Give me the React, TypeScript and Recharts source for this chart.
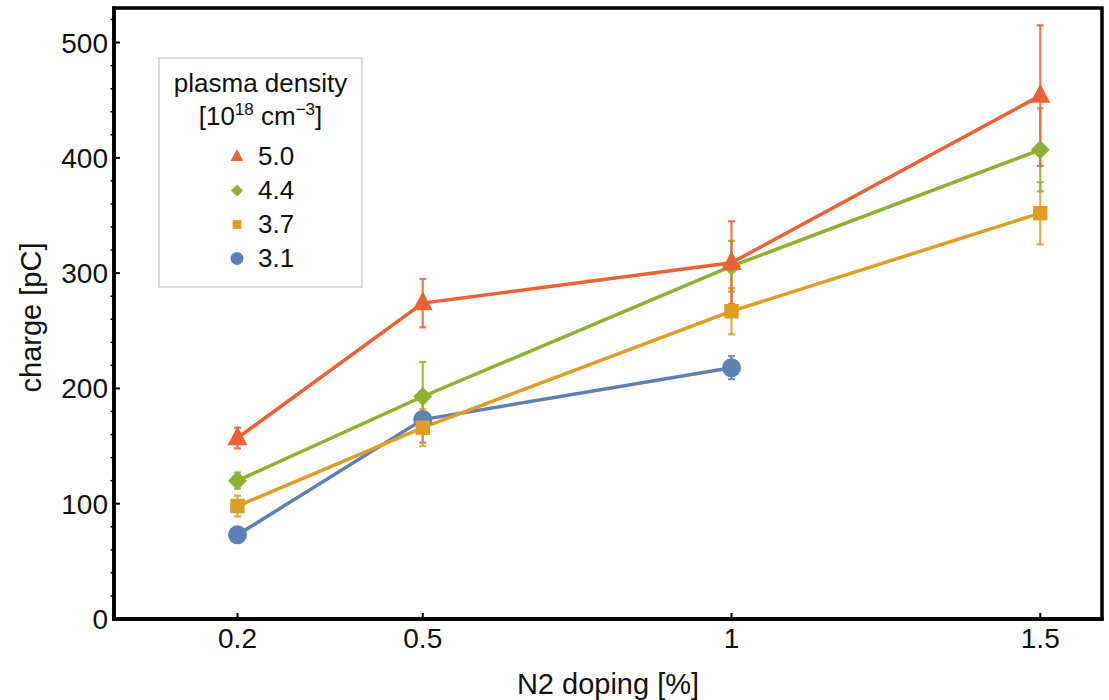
import React from 'react';
import { LineChart, Line, XAxis, YAxis, ErrorBar, Legend, ReferenceArea } from 'recharts';

const FONT = '"Liberation Sans", Arial, Helvetica, sans-serif';

const xValues = [0.2, 0.5, 1, 1.5];
const xTicks = [0.2, 0.5, 1, 1.5];
const xTickLabels = ['0.2', '0.5', '1', '1.5'];
const yMajorTicks = [0, 100, 200, 300, 400, 500];
const yMinorTicks = [20, 40, 60, 80, 120, 140, 160, 180, 220, 240, 260, 280, 320, 340, 360, 380, 420, 440, 460, 480, 520];

const charge50 = [157, 274, 309, 454];
const err50 = [9, 21, 36, 61];
const charge44 = [120, 193, 306, 407];
const err44 = [7, 30, 22, 36];
const charge37 = [98, 166, 267, 352];
const err37 = [9, 16, 20, 27];
const charge31 = [73, 173, 218];
const err31 = [4, 20, 10];

const seriesNames = ['5.0', '4.4', '3.7', '3.1'];
const seriesColors = ['#EB6235', '#8FB131', '#E19C24', '#5E81B5'];
const seriesShapes = ['triangle', 'diamond', 'square', 'circle'];
const seriesValues = [charge50, charge44, charge37, charge31];
const seriesErrors = [err50, err44, err37, err31];

const series = seriesNames.map((name, i) => ({
  name,
  color: seriesColors[i],
  shape: seriesShapes[i],
  data: seriesValues[i].map((v, j) => ({ x: xValues[j], y: v, err: seriesErrors[i][j] })),
}));

const drawOrder = [3, 2, 1, 0];

const X_DOMAIN = [0, 1.6];
const Y_DOMAIN = [0, 530];
const X_TICK_MARGIN = 9;
const Y_TICK_MARGIN = 6;

function Marker({ shape, cx, cy, s, color }: { shape: string; cx: number; cy: number; s: number; color: string }) {
  if (shape === 'triangle') {
    const h = s * 1.0;
    const w = s * 1.05;
    return (
      <polygon
        points={`${cx},${cy - h * 0.62} ${cx - w / 2},${cy + h * 0.38} ${cx + w / 2},${cy + h * 0.38}`}
        fill={color}
      />
    );
  }
  if (shape === 'diamond') {
    const r = s / 2;
    return <polygon points={`${cx},${cy - r} ${cx + r},${cy} ${cx},${cy + r} ${cx - r},${cy}`} fill={color} />;
  }
  if (shape === 'square') {
    const r = s * 0.38;
    return <rect x={cx - r} y={cy - r} width={2 * r} height={2 * r} fill={color} />;
  }
  return <circle cx={cx} cy={cy} r={s * 0.5} fill={color} />;
}

const makeDot = (shape: string, color: string) => (props: any) => {
  const { cx, cy, index } = props;
  if (cx == null || cy == null) return <g key={`d-${shape}-${index}`} />;
  return (
    <g key={`d-${shape}-${index}`}>
      <Marker shape={shape} cx={cx} cy={cy} s={19} color={color} />
    </g>
  );
};

const XTick = (props: any) => {
  const { x, y, payload } = props;
  const axisY = y - X_TICK_MARGIN;
  const idx = xTicks.indexOf(payload.value);
  return (
    <g>
      <line x1={x} x2={x} y1={axisY} y2={axisY - 6} stroke="#000" strokeWidth={2} />
      <text x={x} y={y} dy="0.71em" textAnchor="middle" fontSize={28} fontFamily={FONT} fill="#111">
        {idx >= 0 ? xTickLabels[idx] : ''}
      </text>
    </g>
  );
};

const YTick = (props: any) => {
  const { x, y, payload } = props;
  const axisX = x + Y_TICK_MARGIN;
  const v = payload.value;
  if (!yMajorTicks.includes(v)) {
    return <line x1={axisX} x2={axisX - 3.5} y1={y} y2={y} stroke="#000" strokeWidth={1.5} />;
  }
  return (
    <g>
      <line x1={axisX} x2={axisX + 6} y1={y} y2={y} stroke="#000" strokeWidth={2} />
      <text x={x} y={y} dy="0.355em" textAnchor="end" fontSize={28} fontFamily={FONT} fill="#111">
        {v}
      </text>
    </g>
  );
};

const LegendBox = () => {
  const supStyle: React.CSSProperties = { fontSize: 17, position: 'relative', top: -10, verticalAlign: 'baseline', lineHeight: 0 };
  return (
    <div
      style={{
        width: 205,
        height: 231,
        boxSizing: 'border-box',
        border: '2px solid #dddddd',
        background: '#fff',
        fontFamily: FONT,
        fontSize: 26,
        color: '#111',
        textAlign: 'center',
        paddingTop: 8,
        lineHeight: '33px',
      }}
    >
      <div>plasma density</div>
      <div>
        [10<span style={supStyle}>18</span> cm<span style={supStyle}>−3</span>]
      </div>
      <div style={{ marginTop: 6 }}>
        {series.map((s) => (
          <div key={s.name} style={{ display: 'flex', alignItems: 'center', height: 34, textAlign: 'left' }}>
            <svg width={20} height={20} style={{ marginLeft: 67 }}>
              <Marker shape={s.shape} cx={10} cy={10.5} s={s.shape === 'circle' ? 13 : s.shape === 'square' ? 11.5 : 12} color={s.color} />
            </svg>
            <span style={{ marginLeft: 11 }}>{s.name}</span>
          </div>
        ))}
      </div>
    </div>
  );
};

const XLabel = (props: any) => {
  const vb = props.viewBox || { x: 114, y: 619, width: 988, height: 81 };
  return (
    <text x={vb.x + vb.width / 2} y={vb.y + vb.height - 6} textAnchor="middle" fontSize={29} fontFamily={FONT} fill="#111">
      N2 doping [%]
    </text>
  );
};

const YLabel = (props: any) => {
  const vb = props.viewBox || { x: 0, y: 8, width: 114, height: 611 };
  const cx = vb.x + 31;
  const cy = vb.y + vb.height / 2 + 4;
  return (
    <text
      x={cx}
      y={cy}
      transform={`rotate(-90, ${cx}, ${cy})`}
      textAnchor="middle"
      dominantBaseline="central"
      fontSize={29}
      fontFamily={FONT}
      fill="#111"
    >
      charge [pC]
    </text>
  );
};

const frameLine = { stroke: '#000', strokeWidth: 3.5, strokeLinecap: 'square' as const };

export default function App() {
  return (
    <div style={{ position: 'absolute', left: 0, top: 0, background: '#fff' }}>
      <LineChart width={1109} height={700} margin={{ top: 8, right: 7, bottom: 0, left: 0 }}>
        <XAxis
          dataKey="x"
          type="number"
          domain={X_DOMAIN}
          ticks={xTicks}
          interval={0}
          allowDataOverflow
          height={81}
          tickSize={0}
          tickMargin={X_TICK_MARGIN}
          tickLine={false}
          tick={<XTick />}
          axisLine={frameLine}
          label={<XLabel />}
        />
        <YAxis
          type="number"
          domain={Y_DOMAIN}
          ticks={[...yMajorTicks, ...yMinorTicks].sort((a, b) => a - b)}
          interval={0}
          allowDataOverflow
          width={114}
          tickSize={0}
          tickMargin={Y_TICK_MARGIN}
          tickLine={false}
          tick={<YTick />}
          axisLine={frameLine}
          label={<YLabel />}
        />
        <ReferenceArea
          x1={X_DOMAIN[0]}
          x2={X_DOMAIN[1]}
          y1={Y_DOMAIN[0]}
          y2={Y_DOMAIN[1]}
          fill="none"
          fillOpacity={0}
          stroke="#000"
          strokeWidth={3.5}
          strokeOpacity={1}
          ifOverflow="visible"
        />
        <Legend
          layout="vertical"
          align="center"
          verticalAlign="middle"
          content={<LegendBox />}
          wrapperStyle={{ left: 158, top: 57, width: 205, height: 231 }}
        />
        {drawOrder.map((i) => {
          const s = series[i];
          return (
            <Line
              key={s.name}
              data={s.data}
              dataKey="y"
              name={s.name}
              stroke={s.color}
              strokeWidth={3.5}
              dot={makeDot(s.shape, s.color)}
              activeDot={false}
              isAnimationActive={false}
            >
              <ErrorBar dataKey="err" direction="y" width={3.5} stroke={s.color} strokeOpacity={0.85} strokeWidth={2.2} isAnimationActive={false} />
            </Line>
          );
        })}
      </LineChart>
    </div>
  );
}
